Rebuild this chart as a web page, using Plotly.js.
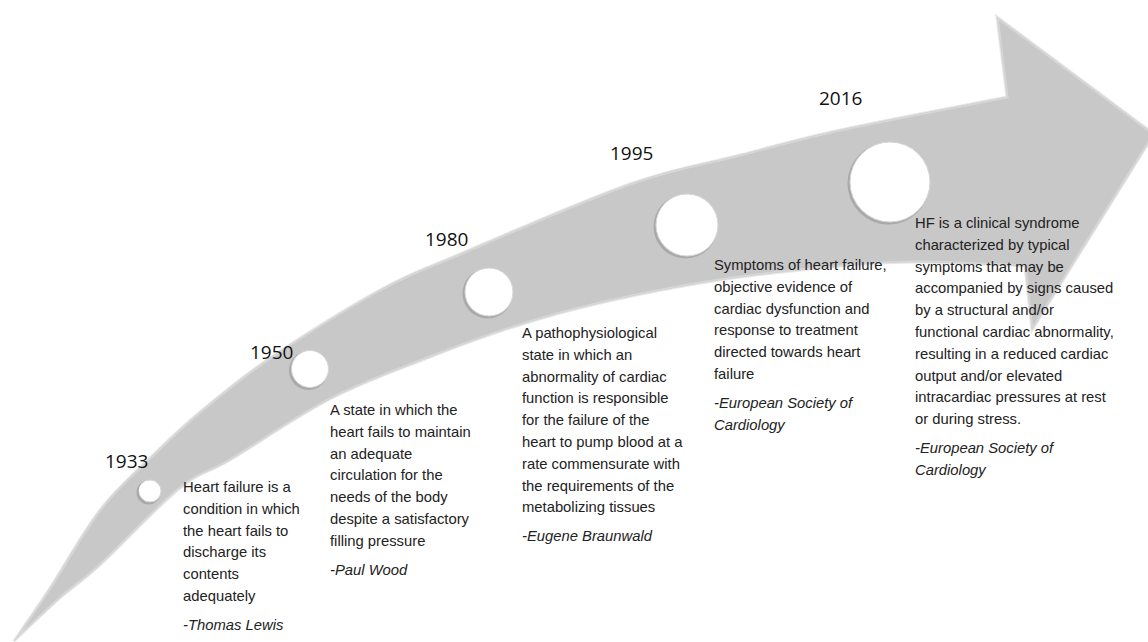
<!DOCTYPE html>
<html>
<head>
<meta charset="utf-8">
<script src="https://cdn.plot.ly/plotly-3.0.1.min.js"></script>
<style>html,body{margin:0;padding:0;background:#fff;}#chart{width:1148px;height:642px;}</style>
</head>
<body>
<div id="chart"></div>
<script>
// ---- data ----
const years = ['1933', '1950', '1980', '1995', '2016'];
const definitions = [
  ['Heart failure is a', 'condition in which', 'the heart fails to', 'discharge its', 'contents', 'adequately'],
  ['A state in which the', 'heart fails to maintain', 'an adequate', 'circulation for the', 'needs of the body', 'despite a satisfactory', 'filling pressure'],
  ['A pathophysiological', 'state in which an', 'abnormality of cardiac', 'function is responsible', 'for the failure of the', 'heart to pump blood at a', 'rate commensurate with', 'the requirements of the', 'metabolizing tissues'],
  ['Symptoms of heart failure,', 'objective evidence of', 'cardiac dysfunction and', 'response to treatment', 'directed towards heart', 'failure'],
  ['HF is a clinical syndrome', 'characterized by typical', 'symptoms that may be', 'accompanied by signs caused', 'by a structural and/or', 'functional cardiac abnormality,', 'resulting in a reduced cardiac', 'output and/or elevated', 'intracardiac pressures at rest', 'or during stress.']
];
const sources = [
  ['-Thomas Lewis'],
  ['-Paul Wood'],
  ['-Eugene Braunwald'],
  ['-European Society of', 'Cardiology'],
  ['-European Society of', 'Cardiology']
];

// ---- layout (pixel positions on a 1148x642 canvas) ----
const nodeX = [150, 310, 489, 687, 890];
const nodeY = [491, 369, 292, 225, 182];
const nodeD = [22, 37, 48, 62, 80];
const yearX = [126, 271, 446, 631, 840];
const yearY = [461, 352, 239, 153, 98];
const textX = [181, 328, 520, 712, 913];
const textY = [487, 410, 333, 265, 223];
const LINE = 21.8, GAP = 29;

const upper = [[14,641],[50,588],[100,510],[150,458],[200,412],[270,358],[380,290],[460,254],[630,184],[740,155],[840,130],[1007,97]];
const lower = [[14,641],[60,598],[100,565],[180,488],[230,460],[330,399],[430,357],[513,327],[600,303],[713,281],[830,267],[913,262],[1025,266]];

function smooth(pts){
  let d = '';
  for (let i = 0; i < pts.length - 1; i++){
    const p0 = pts[Math.max(i-1,0)], p1 = pts[i], p2 = pts[i+1], p3 = pts[Math.min(i+2, pts.length-1)];
    const c1 = [p1[0] + (p2[0]-p0[0])/6, p1[1] + (p2[1]-p0[1])/6];
    const c2 = [p2[0] - (p3[0]-p1[0])/6, p2[1] - (p3[1]-p1[1])/6];
    d += ` C ${c1[0].toFixed(1)},${c1[1].toFixed(1)} ${c2[0].toFixed(1)},${c2[1].toFixed(1)} ${p2[0]},${p2[1]}`;
  }
  return d;
}
const lowRev = lower.slice().reverse();
const arrowPath = `M ${upper[0][0]},${upper[0][1]}` + smooth(upper) +
  ' L 997,17 L 1154,134 L 1032,330 L 1025,266' + smooth(lowRev) + ' Z';

const shapes = [
  {type:'path', path: arrowPath, xref:'x', yref:'y', fillcolor:'#c8c8c8', line:{color:'#b9b9b9', width:1}, layer:'below'},
  {type:'path', path: arrowPath, xref:'x', yref:'y', fillcolor:'rgba(0,0,0,0)', line:{color:'rgba(222,222,222,0.7)', width:3}, layer:'below'}
];

const annotations = [];
const base = {xref:'x', yref:'y', showarrow:false, xanchor:'left', yanchor:'middle', align:'left'};
years.forEach((yr, i) => {
  annotations.push({...base, x: yearX[i], y: yearY[i], xanchor:'center', text: yr,
    font:{family:'Open Sans, Noto Sans, sans-serif', size:19, color:'#111'}});
  definitions[i].forEach((ln, j) => {
    annotations.push({...base, x: textX[i], y: textY[i] + j*LINE, text: ln,
      font:{family:'Liberation Sans, Arial, sans-serif', size:14.8, color:'#222'}});
  });
  const sy = textY[i] + (definitions[i].length - 1)*LINE + GAP;
  sources[i].forEach((ln, j) => {
    annotations.push({...base, x: textX[i], y: sy + j*LINE, text: '<i>' + ln + '</i>',
      font:{family:'Liberation Sans, Arial, sans-serif', size:14.8, color:'#222'}});
  });
});

const traces = [
  {x: nodeX.map(v => v - 1.5), y: nodeY.map(v => v + 1.5), mode:'markers', type:'scatter', hoverinfo:'skip',
   marker:{size: nodeD.map(d => d + 2), color:'rgba(130,130,130,0.45)', line:{width:0}, opacity:1}},
  {x: nodeX, y: nodeY, mode:'markers', type:'scatter', text: years, hoverinfo:'text',
   marker:{size: nodeD, color:'#ffffff', line:{color:'#d6d6d6', width:1}, opacity:1}},
  {x: nodeX.map(v => v - 1.5), y: nodeY.map(v => v - 0.5), mode:'markers', type:'scatter', hoverinfo:'skip',
   marker:{size: nodeD.map(d => d * 0.86), color:'#ffffff', line:{width:0}, opacity:1}}
];

const layout = {
  width:1148, height:642,
  margin:{l:0, r:0, t:0, b:0},
  paper_bgcolor:'#ffffff', plot_bgcolor:'#ffffff',
  showlegend:false,
  xaxis:{range:[0,1148], visible:false, fixedrange:true},
  yaxis:{range:[642,0], visible:false, fixedrange:true},
  shapes, annotations
};
Plotly.newPlot('chart', traces, layout, {displayModeBar:false, staticPlot:true});
</script>
</body>
</html>
